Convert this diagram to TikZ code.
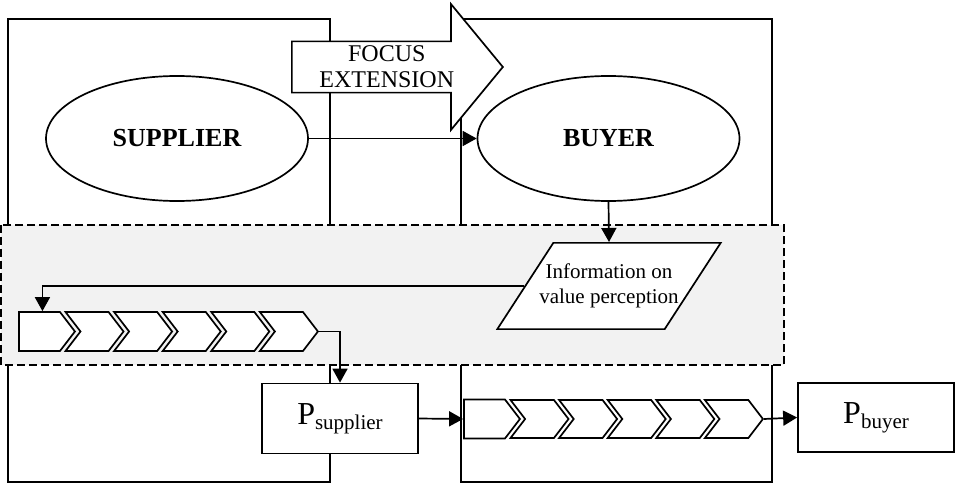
\documentclass[tikz,border=0pt]{standalone}
\usepackage{fontspec}
\setmainfont{Liberation Serif}
\usetikzlibrary{arrows.meta,shapes.geometric,shapes.symbols,shapes.arrows}
\newcommand\Pidx[1]{{\fontsize{32}{32}\selectfont P}\raisebox{-5pt}{\fontsize{21}{21}\selectfont #1}}

\begin{document}
\begin{tikzpicture}[x=1pt,y=-1pt,line width=1.7pt,
    >={Triangle[length=14pt,width=15pt]},
    party/.style={ellipse,draw,fill=white,minimum width=262pt,minimum height=125pt,
      inner sep=0pt,font=\fontsize{26}{30}\selectfont\bfseries},
    chev/.style={signal,signal to=east,signal from=west,signal pointer angle=105,
      draw,fill=white,minimum width=58pt,minimum height=39pt,inner sep=0pt,anchor=east},
    pbox/.style={draw,fill=white,minimum width=156pt,minimum height=70pt,inner sep=0pt},
    band/.style={draw,dash pattern=on 8pt off 4pt,fill=black!5}]
  \useasboundingbox (0,0) rectangle (955,486);
  % the two companies
  \draw (8,19) rectangle (330,482);
  \draw (461,19) rectangle (772,482);
  \node[single arrow,draw,fill=white,anchor=tail,minimum height=211pt,minimum width=126pt,
    single arrow head extend=32pt,single arrow tip angle=101,inner sep=0pt,
    align=center,font=\fontsize{24}{26}\selectfont] (focus) at (291,67) {FOCUS\\EXTENSION};
  \node[party] (sup) at (177,138.5) {SUPPLIER};
  \node[party] (buy) at (608.5,138.5) {BUYER};
  % shared information
  \draw[band] (1,225) rectangle (784,365);
  \node[trapezium,trapezium left angle=57,trapezium right angle=123,
    draw,fill=white,inner xsep=-14pt,inner ysep=21pt,
    align=center,font=\fontsize{21}{25}\selectfont] (info) at (609,286) {Information on\\value perception};
  % value chains
  \node[chev,signal from=nowhere,minimum width=56pt] (sc0) at (76,331.5) {};
  \foreach \i in {1,...,5}
    \node[chev] (sc\i) at ({76+48.6*\i},331.5) {};
  \node[chev,signal from=nowhere,minimum width=56pt] (bc0) at (521,419) {};
  \foreach \i in {1,...,5}
    \node[chev,minimum height=38pt] (bc\i) at ({521+48.6*\i},419) {};
  \node[pbox] (psup) at (340,418.5) {\Pidx{supplier}};
  \node[pbox,minimum height=69pt] (pbuy) at (876,417.5) {\Pidx{buyer}};
  % flows
  \draw[->] (sup.east) -- (buy.west);
  \draw[->] (buy.south) -- (info.north);
  \draw[->] (info.west) -| ([xshift=3pt]sc0.north);
  \draw[->] (sc5.east) -| (psup.north);
  \draw[->] (psup.east) -- (bc0.west);
  \draw[->] (bc5.east) -- (pbuy.west);
\end{tikzpicture}
\end{document}
